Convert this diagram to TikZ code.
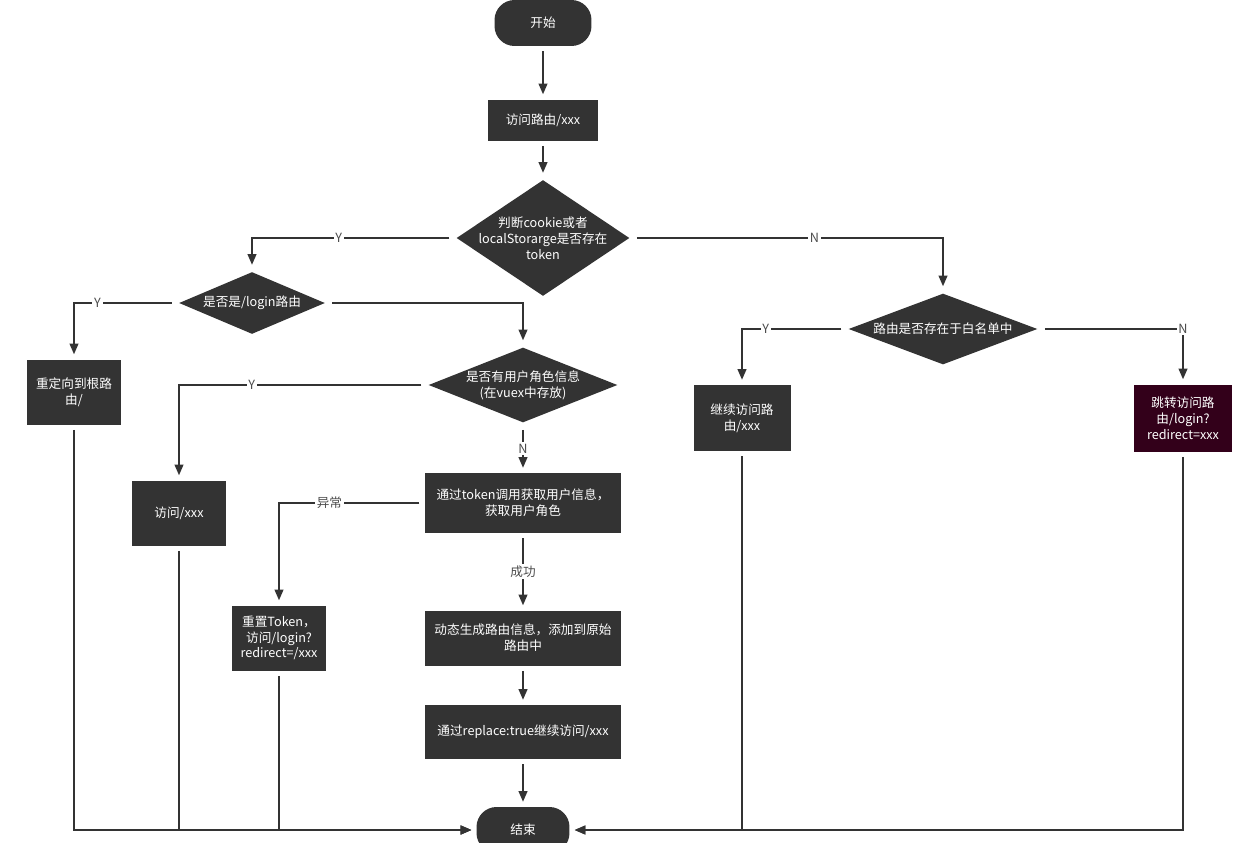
\documentclass[tikz,border=0pt]{standalone}
\usepackage{fontspec}
\setmainfont{Noto Sans CJK SC}
\usetikzlibrary{shapes.geometric,arrows.meta}
\definecolor{boxfill}{HTML}{333333}
\definecolor{jumpfill}{HTML}{33001A}
\definecolor{linecol}{HTML}{333333}

\begin{document}
\begin{tikzpicture}[x=0.02cm, y=-0.02cm,
    every node/.style={font=\fontsize{7.2}{9}\selectfont},
    box/.style={rectangle, fill=boxfill, text=white, align=center, inner sep=0pt, outer sep=3pt},
    term/.style={box, rounded corners=0.4cm, minimum height=0.92cm},
    decision/.style={diamond, fill=boxfill, inner sep=0pt, outer sep=3pt},
    dtext/.style={text=white, align=center},
    conn/.style={draw=linecol, line width=0.8pt, -{Triangle[length=6pt,width=5pt]}},
    lbl/.style={fill=white, text=black!70, inner sep=1pt}]
  \useasboundingbox (0,0) rectangle (1240,842);

  \node[term, minimum width=1.94cm] (start) at (543,23) {开始};
  \node[box, minimum width=2.2cm, minimum height=0.82cm] (visit) at (543,120) {访问路由/xxx};
  \node[decision, minimum width=3.54cm, minimum height=2.4cm,
        label={[dtext]center:判断cookie或者\\localStorarge是否存在\\token}] (tok) at (543,238) {};
  \node[decision, minimum width=3.0cm, minimum height=1.32cm,
        label={[dtext]center:是否是/login路由}] (islogin) at (252,303) {};
  \node[box, minimum width=1.88cm, minimum height=1.3cm] (redir) at (74,392) {重定向到根路\\由/};
  \node[decision, minimum width=3.86cm, minimum height=1.58cm,
        label={[dtext]center:是否有用户角色信息\\(在vuex中存放)}] (hasrole) at (523,385) {};
  \node[box, minimum width=1.9cm, minimum height=1.3cm] (visitx) at (179,513) {访问/xxx};
  \node[box, minimum width=3.94cm, minimum height=1.2cm] (getinfo) at (523,503) {通过token调用获取用户信息，\\获取用户角色};
  \node[box, minimum width=1.88cm, minimum height=1.3cm] (reset) at (279,638) {重置Token，\\访问/login?\\redirect=/xxx};
  \node[box, minimum width=3.94cm, minimum height=1.1cm] (gen) at (523,638) {动态生成路由信息，添加到原始\\路由中};
  \node[box, minimum width=3.94cm, minimum height=1.08cm] (repl) at (523,732) {通过replace:true继续访问/xxx};
  \node[term, minimum width=1.86cm] (stop) at (523,830) {结束};
  \node[decision, minimum width=3.86cm, minimum height=1.5cm,
        label={[dtext]center:路由是否存在于白名单中}] (white) at (943,329) {};
  \node[box, minimum width=1.94cm, minimum height=1.32cm] (cont) at (742,418) {继续访问路\\由/xxx};
  \node[box, fill=jumpfill, minimum width=1.96cm, minimum height=1.34cm] (jump) at (1183,418) {跳转访问路\\由/login?\\redirect=xxx};

  \draw[conn] (start) -- (visit);
  \draw[conn] (visit) -- (tok);
  \draw[conn] (tok.west) -| (islogin.north) node[lbl, pos=0.28] {Y};
  \draw[conn] (tok.east) -| (white.north) node[lbl, pos=0.29] {N};
  \draw[conn] (islogin.west) -| (redir.north) node[lbl, pos=0.38] {Y};
  \draw[conn] (islogin.east) -| (hasrole.north);
  \draw[conn] (hasrole.west) -| (visitx.north) node[lbl, pos=0.35] {Y};
  \draw[conn] (hasrole.south) -- (getinfo.north) node[lbl, midway] {N};
  \draw[conn] (getinfo.west) -| (reset.north) node[lbl, pos=0.32] {异常};
  \draw[conn] (getinfo.south) -- (gen.north) node[lbl, midway] {成功};
  \draw[conn] (gen) -- (repl);
  \draw[conn] (repl) -- (stop);
  \draw[conn] (white.west) -| (cont.north) node[lbl, pos=0.38] {Y};
  \draw[conn] (white.east) -| (jump.north) node[lbl, pos=0.5] {N};
  \draw[conn] (redir.south) |- (stop.west);
  \draw[conn] (visitx.south) |- (stop.west);
  \draw[conn] (reset.south) |- (stop.west);
  \draw[conn] (cont.south) |- (stop.east);
  \draw[conn] (jump.south) |- (stop.east);
\end{tikzpicture}
\end{document}
